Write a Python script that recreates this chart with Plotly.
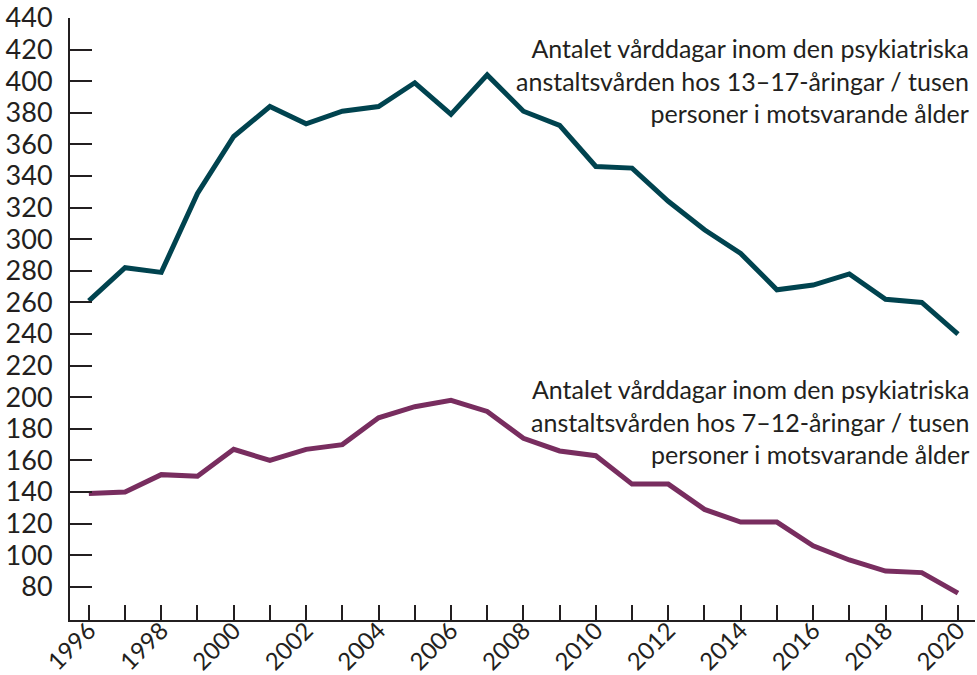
import plotly.graph_objects as go

years = list(range(1996, 2021))

# vårddagar per 1000 personer, 13-17 år
older = [261, 282, 279, 329, 365, 384, 373, 381, 384, 399, 379, 404, 381,
         372, 346, 345, 324, 306, 291, 268, 271, 278, 262, 260, 240]

# vårddagar per 1000 personer, 7-12 år
younger = [139, 140, 151, 150, 167, 160, 167, 170, 187, 194, 198, 191, 174,
           166, 163, 145, 145, 129, 121, 121, 106, 97, 90, 89, 76]

label_older = ("Antalet vårddagar inom den psykiatriska<br>"
               "anstaltsvården hos 13–17-åringar / tusen<br>"
               "personer i motsvarande ålder")
label_younger = ("Antalet vårddagar inom den psykiatriska<br>"
                 "anstaltsvården hos 7–12-åringar / tusen<br>"
                 "personer i motsvarande ålder")

y_ticks = list(range(80, 441, 20))
x_text = [str(y) if y % 2 == 0 else "" for y in years]

ink = "#231f20"
font = "Lato, 'Open Sans', sans-serif"

fig = go.Figure()
fig.add_trace(go.Scatter(x=years, y=older, mode="lines",
                         line=dict(color="#00434f", width=5), hoverinfo="skip"))
fig.add_trace(go.Scatter(x=years, y=younger, mode="lines",
                         line=dict(color="#782d5f", width=5), hoverinfo="skip"))

fig.add_annotation(text=label_older, xref="paper", x=1, xshift=-4, xanchor="right",
                   y=400.5, yanchor="middle", showarrow=False, align="right",
                   font=dict(size=25, color=ink, family=font))
fig.add_annotation(text=label_younger, xref="paper", x=1, xshift=-4, xanchor="right",
                   y=184.5, yanchor="middle", showarrow=False, align="right",
                   font=dict(size=25, color=ink, family=font))

fig.update_layout(
    width=977, height=675,
    margin=dict(l=70, r=2, t=18, b=55),
    paper_bgcolor="white", plot_bgcolor="white",
    showlegend=False,
    font=dict(family=font, color=ink, size=27),
)
fig.update_xaxes(range=[1995.48, 2020.47], tickvals=years, ticktext=x_text,
                 tickangle=-45, ticks="inside", ticklen=15, tickwidth=2, tickcolor=ink,
                 showline=True, linecolor=ink, linewidth=2, showgrid=False, zeroline=False,
                 automargin=False, ticklabelstandoff=-15, tickfont=dict(size=24))
fig.update_yaxes(range=[59, 440], tickvals=y_ticks,
                 ticks="inside", ticklen=22, tickwidth=2, tickcolor=ink,
                 showline=True, linecolor=ink, linewidth=2, showgrid=False, zeroline=False,
                 automargin=False, ticklabelstandoff=10, tickfont=dict(size=27))

# the page's default body margin would push the fixed-size figure off the window
fig.write_html("out.html", config={"displayModeBar": False},
               post_script="document.body.style.margin = '0';")
